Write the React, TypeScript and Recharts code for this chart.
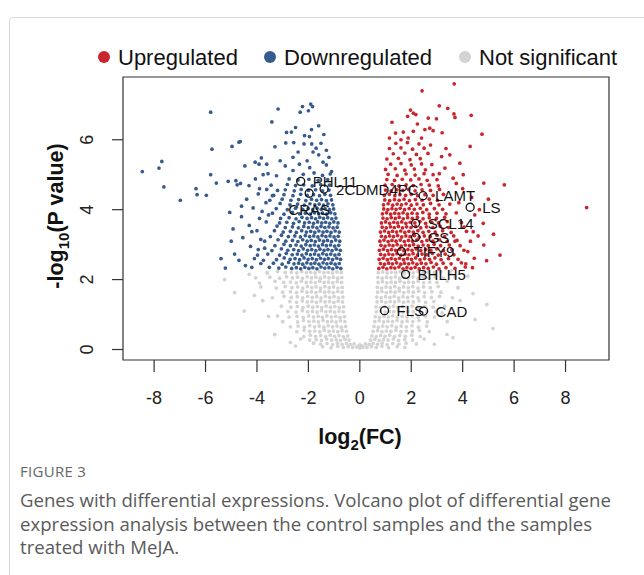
import React from 'react';
import { ScatterChart, Scatter, XAxis, YAxis, ReferenceArea } from 'recharts';

const X_TICKS = [-8, -6, -4, -2, 0, 2, 4, 6, 8];
const Y_TICKS = [0, 2, 4, 6];

// downregulated genes
const DOWN: [number, number][] = [
  [-0.74,2.32],[-0.89,2.35],[-1.05,2.31],[-1.2,2.34],[-1.36,2.33],[-1.51,2.36],[-1.67,2.31],[-1.83,2.34],[-1.98,2.32],[-2.14,2.35],[-2.3,2.31],[-2.47,2.34],[-2.65,2.32],[-2.88,2.36],[-3.15,2.33],[-3.52,2.35],
  [-0.8,2.46],[-0.96,2.44],[-1.12,2.47],[-1.28,2.45],[-1.43,2.48],[-1.59,2.44],[-1.75,2.47],[-1.9,2.45],[-2.06,2.48],[-2.22,2.44],[-2.38,2.47],[-2.56,2.45],[-2.77,2.49],[-3.02,2.44],[-3.36,2.47],[-3.85,2.46],
  [-0.75,2.58],[-0.9,2.61],[-1.06,2.57],[-1.22,2.6],[-1.37,2.58],[-1.53,2.61],[-1.69,2.57],[-1.85,2.6],[-2.01,2.58],[-2.17,2.62],[-2.34,2.57],[-2.52,2.6],[-2.71,2.58],[-2.94,2.62],[-3.24,2.57],[-4.1,2.6],
  [-0.81,2.72],[-0.97,2.7],[-1.13,2.73],[-1.29,2.71],[-1.44,2.74],[-1.6,2.7],[-1.76,2.73],[-1.92,2.71],[-2.08,2.74],[-2.25,2.7],[-2.43,2.73],[-2.63,2.71],[-2.86,2.75],[-3.12,2.7],[-3.58,2.73],
  [-0.76,2.84],[-0.92,2.87],[-1.08,2.83],[-1.24,2.86],[-1.39,2.84],[-1.55,2.87],[-1.71,2.83],[-1.87,2.86],[-2.03,2.84],[-2.2,2.88],[-2.38,2.83],[-2.57,2.86],[-2.8,2.84],[-3.05,2.88],[-3.42,2.83],[-3.95,2.86],
  [-0.82,2.98],[-0.98,2.96],[-1.14,2.99],[-1.3,2.97],[-1.45,3.0],[-1.61,2.96],[-1.77,2.99],[-1.93,2.97],[-2.1,3.0],[-2.28,2.96],[-2.48,2.99],[-2.7,2.97],[-2.95,3.01],[-3.3,2.97],
  [-0.78,3.1],[-0.94,3.13],[-1.1,3.09],[-1.26,3.12],[-1.41,3.1],[-1.57,3.13],[-1.73,3.09],[-1.89,3.12],[-2.05,3.1],[-2.22,3.14],[-2.41,3.09],[-2.62,3.12],[-2.88,3.1],[-3.18,3.14],[-3.7,3.1],
  [-0.84,3.24],[-1.0,3.22],[-1.16,3.25],[-1.32,3.23],[-1.47,3.26],[-1.63,3.22],[-1.79,3.25],[-1.95,3.23],[-2.12,3.26],[-2.31,3.22],[-2.53,3.25],[-2.78,3.23],[-3.05,3.27],[-3.48,3.23],
  [-0.8,3.36],[-0.96,3.39],[-1.12,3.35],[-1.28,3.38],[-1.43,3.36],[-1.59,3.39],[-1.75,3.35],[-1.91,3.38],[-2.08,3.36],[-2.26,3.4],[-2.47,3.35],[-2.7,3.38],[-2.98,3.36],[-3.32,3.4],[-4.2,3.37],
  [-0.88,3.5],[-1.04,3.48],[-1.2,3.51],[-1.36,3.49],[-1.51,3.52],[-1.67,3.48],[-1.83,3.51],[-2.0,3.49],[-2.18,3.52],[-2.39,3.48],[-2.62,3.51],[-2.9,3.49],[-3.22,3.53],
  [-0.85,3.62],[-1.01,3.65],[-1.17,3.61],[-1.33,3.64],[-1.48,3.62],[-1.64,3.65],[-1.8,3.61],[-1.97,3.64],[-2.15,3.62],[-2.36,3.66],[-2.58,3.61],[-2.84,3.64],[-3.12,3.62],[-3.64,3.65],
  [-0.93,3.76],[-1.09,3.74],[-1.25,3.77],[-1.41,3.75],[-1.56,3.78],[-1.72,3.74],[-1.88,3.77],[-2.05,3.75],[-2.25,3.78],[-2.48,3.74],[-2.75,3.77],[-3.08,3.75],
  [-0.97,3.88],[-1.13,3.91],[-1.29,3.87],[-1.45,3.9],[-1.6,3.88],[-1.76,3.91],[-1.93,3.87],[-2.12,3.9],[-2.34,3.88],[-2.62,3.92],[-2.95,3.87],[-3.4,3.9],
  [-1.02,4.02],[-1.18,4.0],[-1.35,4.03],[-1.5,4.01],[-1.66,4.04],[-1.83,4.0],[-2.01,4.03],[-2.22,4.01],[-2.5,4.04],[-2.82,4.0],[-3.25,4.03],
  [-1.05,4.14],[-1.24,4.17],[-1.41,4.13],[-1.58,4.16],[-1.75,4.14],[-1.94,4.17],[-2.16,4.13],[-2.42,4.16],[-2.72,4.14],[-3.1,4.18],
  [-1.1,4.28],[-1.3,4.26],[-1.49,4.29],[-1.68,4.27],[-1.88,4.3],[-2.1,4.26],[-2.38,4.29],[-2.68,4.27],[-3.02,4.3],[-3.5,4.27],
  [-1.14,4.41],[-1.36,4.44],[-1.57,4.4],[-1.8,4.43],[-2.05,4.41],[-2.3,4.44],[-2.6,4.4],[-2.95,4.43],[-3.35,4.41],
  [-1.2,4.56],[-1.45,4.54],[-1.72,4.57],[-2.0,4.55],[-2.28,4.58],[-2.55,4.54],[-2.9,4.57],[-3.2,4.55],[-3.62,4.58],
  [-1.18,4.7],[-1.52,4.72],[-1.85,4.68],[-2.18,4.71],[-2.5,4.69],[-2.82,4.72],[-3.45,4.7],
  [-1.25,4.86],[-1.62,4.84],[-1.98,4.87],[-2.4,4.85],[-2.75,4.88],
  [-1.15,5.02],[-1.45,4.98],[-1.78,5.05],[-2.2,5.01],[-2.6,5.12],
  [-1.43,5.36],[-1.3,5.28],[-1.1,5.09],[-1.88,6.29],[-2.15,6.12],[-1.96,6.09],[-2.17,5.88],[-1.87,5.88],[-1.7,5.76],[-1.51,5.9],[-1.6,5.57],[-1.82,5.65],
  [-2.23,6.95],[-2.32,6.79],[-2.0,6.83],[-1.91,7.02],[-1.84,6.95],[-2.85,6.21],[-2.66,6.22],[-2.5,6.35],[-2.88,5.91],[-2.57,5.92],[-3.42,6.51],[-3.18,6.88],
  [-2.05,5.4],[-2.35,5.3],[-1.95,5.2],[-2.6,5.5],[-1.3,5.7],[-1.6,6.4],[-2.4,5.65],[-3.1,5.4],[-3.3,5.8],[-1.4,6.15],[-1.2,5.5],[-2.9,5.25],
  [-8.46,5.09],[-7.81,5.19],[-7.7,5.38],[-7.62,4.65],[-6.98,4.27],[-6.37,4.6],[-6.33,4.43],[-5.97,4.41],[-5.8,6.79],[-5.75,5.73],[-5.8,5.0],[-5.58,4.76],
  [-4.97,5.81],[-4.7,5.93],[-4.65,5.95],[-5.06,3.92],[-4.93,3.45],[-4.87,2.73],[-5.23,2.33],[-5.12,4.81],[-4.82,4.83],[-4.77,4.71],[-4.64,4.75],[-4.47,5.25],
  [-4.31,4.69],[-4.07,5.36],[-3.92,5.3],[-3.83,5.48],[-3.62,5.3],[-3.76,5.0],[-4.06,4.88],[-3.57,5.03],[-3.24,4.97],
  [-4.4,4.3],[-4.15,4.05],[-3.95,4.45],[-4.6,3.8],[-4.3,3.55],[-3.9,3.75],[-4.55,3.2],[-4.25,2.95],[-3.85,3.15],[-4.7,2.55],[-4.45,2.4],[-3.98,2.7],
  [-3.75,2.55],[-3.65,4.2],[-3.8,3.95],[-4.0,3.4],[-3.55,3.85],[-3.4,4.4],[-3.7,2.9],[-4.6,4.1],[-5.0,3.1],[-5.4,2.6],[-4.2,2.35],[-3.9,4.6],
];

// upregulated genes
const UP: [number, number][] = [
  [0.74,2.32],[0.9,2.35],[1.05,2.31],[1.21,2.34],[1.36,2.33],[1.52,2.36],[1.68,2.31],[1.83,2.34],[1.99,2.32],[2.15,2.35],[2.31,2.31],[2.48,2.34],[2.66,2.32],[2.86,2.36],[3.08,2.31],[3.35,2.34],[3.7,2.32],[4.1,2.36],
  [0.8,2.46],[0.96,2.44],[1.12,2.47],[1.27,2.45],[1.43,2.48],[1.59,2.44],[1.74,2.47],[1.9,2.45],[2.06,2.48],[2.22,2.44],[2.39,2.47],[2.57,2.45],[2.77,2.49],[2.98,2.44],[3.24,2.47],[3.55,2.45],[3.95,2.48],
  [0.75,2.58],[0.91,2.61],[1.07,2.57],[1.22,2.6],[1.38,2.58],[1.54,2.61],[1.7,2.57],[1.85,2.6],[2.01,2.58],[2.17,2.62],[2.34,2.57],[2.52,2.6],[2.71,2.58],[2.92,2.62],[3.16,2.57],[3.45,2.6],[3.82,2.58],[4.45,2.61],
  [0.81,2.72],[0.97,2.7],[1.13,2.73],[1.28,2.71],[1.44,2.74],[1.6,2.7],[1.76,2.73],[1.91,2.71],[2.07,2.74],[2.24,2.7],[2.42,2.73],[2.61,2.71],[2.82,2.75],[3.05,2.7],[3.32,2.73],[3.66,2.71],
  [0.76,2.84],[0.92,2.87],[1.08,2.83],[1.23,2.86],[1.39,2.84],[1.55,2.87],[1.71,2.83],[1.87,2.86],[2.03,2.84],[2.19,2.88],[2.37,2.83],[2.56,2.86],[2.76,2.84],[2.99,2.88],[3.25,2.83],[3.58,2.86],[4.05,2.84],
  [0.82,2.98],[0.98,2.96],[1.14,2.99],[1.29,2.97],[1.45,3.0],[1.61,2.96],[1.77,2.99],[1.93,2.97],[2.09,3.0],[2.27,2.96],[2.46,2.99],[2.66,2.97],[2.89,3.01],[3.14,2.97],[3.48,2.99],[3.9,2.97],
  [0.78,3.1],[0.94,3.13],[1.1,3.09],[1.25,3.12],[1.41,3.1],[1.57,3.13],[1.73,3.09],[1.89,3.12],[2.05,3.1],[2.22,3.14],[2.41,3.09],[2.61,3.12],[2.84,3.1],[3.1,3.14],[3.4,3.09],[3.78,3.12],[4.3,3.1],
  [0.84,3.24],[1.0,3.22],[1.16,3.25],[1.31,3.23],[1.47,3.26],[1.63,3.22],[1.79,3.25],[1.95,3.23],[2.12,3.26],[2.31,3.22],[2.51,3.25],[2.74,3.23],[3.0,3.27],[3.3,3.23],[3.65,3.25],
  [0.8,3.36],[0.96,3.39],[1.12,3.35],[1.27,3.38],[1.43,3.36],[1.59,3.39],[1.75,3.35],[1.91,3.38],[2.08,3.36],[2.26,3.4],[2.46,3.35],[2.68,3.38],[2.93,3.36],[3.22,3.4],[3.55,3.35],[4.15,3.38],
  [0.87,3.5],[1.03,3.48],[1.19,3.51],[1.34,3.49],[1.5,3.52],[1.66,3.48],[1.82,3.51],[1.99,3.49],[2.17,3.52],[2.37,3.48],[2.59,3.51],[2.84,3.49],[3.12,3.53],[3.46,3.49],
  [0.84,3.62],[1.0,3.65],[1.16,3.61],[1.32,3.64],[1.47,3.62],[1.63,3.65],[1.79,3.61],[1.96,3.64],[2.14,3.62],[2.34,3.66],[2.56,3.61],[2.8,3.64],[3.06,3.62],[3.4,3.66],[3.95,3.63],
  [0.9,3.76],[1.06,3.74],[1.22,3.77],[1.38,3.75],[1.53,3.78],[1.69,3.74],[1.86,3.77],[2.04,3.75],[2.24,3.78],[2.46,3.74],[2.7,3.77],[2.98,3.75],[3.3,3.78],
  [0.88,3.88],[1.04,3.91],[1.2,3.87],[1.36,3.9],[1.52,3.88],[1.68,3.91],[1.85,3.87],[2.03,3.9],[2.23,3.88],[2.45,3.92],[2.7,3.87],[3.0,3.9],[3.35,3.88],[3.75,3.91],
  [0.93,4.02],[1.09,4.0],[1.25,4.03],[1.41,4.01],[1.57,4.04],[1.74,4.0],[1.92,4.03],[2.12,4.01],[2.35,4.04],[2.6,4.0],[2.9,4.03],[3.22,4.01],
  [0.92,4.14],[1.1,4.17],[1.28,4.13],[1.45,4.16],[1.62,4.14],[1.8,4.17],[2.0,4.13],[2.22,4.16],[2.47,4.14],[2.75,4.18],[3.08,4.14],[3.5,4.16],
  [0.97,4.28],[1.16,4.26],[1.35,4.29],[1.53,4.27],[1.72,4.3],[1.93,4.26],[2.16,4.29],[2.42,4.27],[2.7,4.3],[3.02,4.27],
  [0.95,4.41],[1.15,4.44],[1.36,4.4],[1.56,4.43],[1.78,4.41],[2.0,4.44],[2.25,4.4],[2.53,4.43],[2.85,4.41],[3.25,4.44],
  [1.0,4.56],[1.22,4.54],[1.44,4.57],[1.67,4.55],[1.9,4.58],[2.15,4.54],[2.42,4.57],[2.75,4.55],[3.1,4.58],
  [0.98,4.7],[1.26,4.72],[1.52,4.68],[1.8,4.71],[2.08,4.69],[2.38,4.72],[2.7,4.7],[3.05,4.68],
  [1.05,4.86],[1.35,4.84],[1.65,4.87],[1.98,4.85],[2.3,4.88],[2.62,4.84],[3.0,4.86],
  [1.1,5.01],[1.45,4.98],[1.8,5.02],[2.15,4.99],[2.5,5.03],[2.85,5.0],
  [1.0,5.15],[1.38,5.17],[1.75,5.13],[2.12,5.16],[2.55,5.14],
  [1.2,5.3],[1.6,5.32],[2.0,5.28],[2.4,5.31],[2.8,5.29],
  [1.05,5.45],[1.5,5.47],[1.95,5.43],[2.35,5.46],
  [1.3,5.6],[1.75,5.62],[2.2,5.58],[2.65,5.61],
  [1.15,5.75],[1.6,5.77],[2.05,5.73],[2.5,5.76],
  [1.4,5.9],[1.85,5.92],[2.3,5.88],
  [3.67,7.6],[2.42,7.4],[3.09,6.97],[3.42,6.9],[1.97,6.85],[2.08,6.76],[2.18,6.72],[2.66,6.62],[2.98,6.6],[3.66,6.74],[3.7,6.64],[4.33,6.7],
  [1.86,6.67],[2.24,6.45],[2.72,6.33],[2.53,6.29],[2.85,6.26],[2.08,6.24],[1.69,6.22],[1.39,6.19],[1.88,6.05],[4.75,6.16],[4.29,5.81],[3.5,5.57],
  [3.18,5.52],[3.89,5.33],[3.31,5.19],[3.09,5.03],[3.63,4.9],[4.02,5.0],[4.82,4.76],[5.62,4.71],[8.82,4.06],[1.25,6.5],[1.6,6.0],[2.4,6.05],
  [3.2,6.2],[2.75,5.85],[1.15,6.05],[3.35,5.75],
  [4.47,3.85],[4.8,3.61],[4.82,2.99],[4.93,2.54],[4.38,2.34],[4.2,2.8],[4.6,3.25],[4.05,3.5],[4.35,4.35],[4.0,4.6],[3.85,4.2],[4.65,4.0],
  [5.2,3.3],[5.45,2.7],[3.7,3.1],[4.12,2.45],[5.0,4.3],[3.75,4.75],[4.41,3.37],
];

// not significant, read off the grey cloud
const NS: [number, number][] = [
  [-0.72,2.2],[-0.89,2.22],[-1.06,2.19],[-1.23,2.21],[-1.4,2.2],[-1.57,2.23],[-1.74,2.19],[-1.91,2.21],[-2.08,2.2],[-2.26,2.23],[-2.45,2.19],[-2.66,2.21],[-2.9,2.2],[-3.2,2.23],[-3.6,2.19],
  [-0.7,2.06],[-0.86,2.04],[-1.03,2.07],[-1.2,2.05],[-1.37,2.08],[-1.54,2.04],[-1.71,2.07],[-1.88,2.05],[-2.05,2.08],[-2.23,2.04],[-2.42,2.07],[-2.62,2.05],[-2.85,2.08],[-3.12,2.04],[-3.5,2.07],[-4.05,2.05],
  [-0.71,1.92],[-0.88,1.94],[-1.05,1.91],[-1.22,1.93],[-1.39,1.92],[-1.56,1.95],[-1.73,1.91],[-1.9,1.93],[-2.08,1.92],[-2.27,1.95],[-2.47,1.91],[-2.7,1.93],[-2.96,1.92],[-3.3,1.95],
  [-0.68,1.78],[-0.85,1.76],[-1.02,1.79],[-1.19,1.77],[-1.36,1.8],[-1.53,1.76],[-1.7,1.79],[-1.87,1.77],[-2.04,1.8],[-2.22,1.76],[-2.42,1.79],[-2.64,1.77],[-2.9,1.8],[-3.25,1.76],[-3.85,1.79],
  [-0.69,1.64],[-0.86,1.66],[-1.03,1.63],[-1.2,1.65],[-1.37,1.64],[-1.54,1.67],[-1.71,1.63],[-1.88,1.65],[-2.06,1.64],[-2.25,1.67],[-2.46,1.63],[-2.7,1.65],[-3.0,1.64],[-4.87,1.63],
  [-0.66,1.5],[-0.83,1.48],[-1.0,1.51],[-1.17,1.49],[-1.34,1.52],[-1.51,1.48],[-1.68,1.51],[-1.85,1.49],[-2.03,1.52],[-2.22,1.48],[-2.43,1.51],[-2.67,1.49],[-2.95,1.52],[-3.4,1.48],
  [-0.67,1.36],[-0.84,1.38],[-1.01,1.35],[-1.18,1.37],[-1.35,1.36],[-1.52,1.39],[-1.69,1.35],[-1.86,1.37],[-2.04,1.36],[-2.24,1.39],[-2.46,1.35],[-2.72,1.37],[-3.78,1.4],
  [-0.63,1.22],[-0.8,1.2],[-0.97,1.23],[-1.14,1.21],[-1.31,1.24],[-1.48,1.2],[-1.65,1.23],[-1.83,1.21],[-2.01,1.24],[-2.21,1.2],[-2.43,1.23],[-2.68,1.21],[-3.05,1.24],
  [-0.64,1.08],[-0.81,1.1],[-0.98,1.07],[-1.15,1.09],[-1.32,1.08],[-1.49,1.11],[-1.66,1.07],[-1.84,1.09],[-2.03,1.08],[-2.24,1.11],[-2.48,1.07],[-2.8,1.09],
  [-0.6,0.94],[-0.77,0.92],[-0.94,0.95],[-1.11,0.93],[-1.28,0.96],[-1.45,0.92],[-1.62,0.95],[-1.8,0.93],[-1.99,0.96],[-2.2,0.92],[-2.44,0.95],[-2.75,0.93],[-3.2,0.96],
  [-0.58,0.8],[-0.75,0.82],[-0.92,0.79],[-1.09,0.81],[-1.26,0.8],[-1.43,0.83],[-1.61,0.79],[-1.79,0.81],[-1.98,0.8],[-2.19,0.83],[-2.42,0.79],[-3.0,0.8],
  [-0.55,0.66],[-0.72,0.64],[-0.89,0.67],[-1.06,0.65],[-1.23,0.68],[-1.4,0.64],[-1.58,0.67],[-1.76,0.65],[-1.95,0.68],[-2.16,0.64],[-2.4,0.67],[-2.7,0.65],
  [-0.52,0.52],[-0.69,0.54],[-0.86,0.51],[-1.03,0.53],[-1.2,0.52],[-1.38,0.55],[-1.56,0.51],[-1.75,0.53],[-1.95,0.52],[-2.17,0.55],[-2.45,0.51],
  [-0.47,0.39],[-0.64,0.37],[-0.81,0.4],[-0.98,0.38],[-1.15,0.41],[-1.33,0.37],[-1.52,0.4],[-1.72,0.38],[-1.93,0.41],[-2.18,0.37],[-3.31,0.43],
  [-0.42,0.27],[-0.58,0.29],[-0.75,0.26],[-0.92,0.28],[-1.1,0.27],[-1.29,0.3],[-1.49,0.26],[-1.7,0.28],[-1.95,0.27],[-2.3,0.3],
  [-0.22,0.16],[-0.36,0.15],[-0.52,0.17],[-0.69,0.15],[-0.87,0.18],[-1.06,0.14],[-1.28,0.17],[-1.52,0.15],[-1.8,0.18],
  [-0.12,0.07],[-0.28,0.06],[-0.45,0.08],[-0.64,0.06],[-0.86,0.09],[-1.12,0.05],[-1.45,0.08],
  [0.0,0.04],[-0.05,0.1],[0.05,0.11],[0.12,0.07],[0.0,0.13],
  [0.72,2.2],[0.89,2.22],[1.06,2.19],[1.23,2.21],[1.4,2.2],[1.57,2.23],[1.74,2.19],[1.91,2.21],[2.08,2.2],[2.26,2.23],[2.45,2.19],[2.66,2.21],[2.9,2.2],[3.15,2.23],[3.5,2.19],
  [0.7,2.06],[0.87,2.04],[1.04,2.07],[1.21,2.05],[1.38,2.08],[1.55,2.04],[1.72,2.07],[1.89,2.05],[2.07,2.08],[2.26,2.04],[2.46,2.07],[2.68,2.05],[2.93,2.08],[3.25,2.04],[3.7,2.07],
  [0.71,1.92],[0.88,1.94],[1.05,1.91],[1.22,1.93],[1.39,1.92],[1.56,1.95],[1.73,1.91],[1.9,1.93],[2.08,1.92],[2.27,1.95],[2.48,1.91],[2.72,1.93],[3.0,1.92],[3.4,1.95],
  [0.68,1.78],[0.85,1.76],[1.02,1.79],[1.19,1.77],[1.36,1.8],[1.53,1.76],[1.7,1.79],[1.88,1.77],[2.06,1.8],[2.26,1.76],[2.48,1.79],[2.74,1.77],[3.05,1.8],[3.82,1.77],
  [0.69,1.64],[0.86,1.66],[1.03,1.63],[1.2,1.65],[1.37,1.64],[1.54,1.67],[1.71,1.63],[1.89,1.65],[2.08,1.64],[2.29,1.67],[2.52,1.63],[2.8,1.65],[3.15,1.64],
  [0.66,1.5],[0.83,1.48],[1.0,1.51],[1.17,1.49],[1.34,1.52],[1.51,1.48],[1.68,1.51],[1.86,1.49],[2.05,1.52],[2.26,1.48],[2.5,1.51],[2.78,1.49],[3.1,1.52],[3.6,1.48],
  [0.67,1.36],[0.84,1.38],[1.01,1.35],[1.18,1.37],[1.35,1.36],[1.52,1.39],[1.7,1.35],[1.88,1.37],[2.08,1.36],[2.3,1.39],[2.56,1.35],[2.88,1.37],[4.94,1.29],
  [0.63,1.22],[0.8,1.2],[0.97,1.23],[1.14,1.21],[1.31,1.24],[1.48,1.2],[1.66,1.23],[1.84,1.21],[2.04,1.24],[2.26,1.2],[2.52,1.23],[2.85,1.21],[3.3,1.24],
  [0.64,1.08],[0.81,1.1],[0.98,1.07],[1.15,1.09],[1.32,1.08],[1.5,1.11],[1.68,1.07],[1.87,1.09],[2.08,1.08],[2.31,1.11],[2.6,1.07],[2.95,1.09],
  [0.6,0.94],[0.77,0.92],[0.94,0.95],[1.11,0.93],[1.28,0.96],[1.46,0.92],[1.64,0.95],[1.83,0.93],[2.04,0.96],[2.27,0.92],[2.55,0.95],[2.9,0.93],
  [0.58,0.8],[0.75,0.82],[0.92,0.79],[1.09,0.81],[1.27,0.8],[1.45,0.83],[1.64,0.79],[1.84,0.81],[2.06,0.8],[2.3,0.83],[2.62,0.79],[3.4,0.8],
  [0.55,0.66],[0.72,0.64],[0.89,0.67],[1.06,0.65],[1.24,0.68],[1.42,0.64],[1.61,0.67],[1.81,0.65],[2.03,0.68],[2.28,0.64],[2.6,0.67],
  [0.52,0.52],[0.69,0.54],[0.86,0.51],[1.03,0.53],[1.21,0.52],[1.4,0.55],[1.6,0.51],[1.81,0.53],[2.04,0.52],[2.32,0.55],[2.7,0.51],
  [0.47,0.39],[0.64,0.37],[0.81,0.4],[0.98,0.38],[1.16,0.41],[1.35,0.37],[1.55,0.4],[1.77,0.38],[2.02,0.41],[2.35,0.37],[3.39,0.43],
  [0.42,0.27],[0.58,0.29],[0.75,0.26],[0.92,0.28],[1.1,0.27],[1.3,0.3],[1.51,0.26],[1.75,0.28],[2.05,0.27],[2.5,0.3],[3.62,0.34],
  [0.22,0.16],[0.36,0.15],[0.52,0.17],[0.69,0.15],[0.87,0.18],[1.06,0.14],[1.28,0.17],[1.52,0.15],[1.8,0.18],[2.2,0.16],
  [0.12,0.07],[0.28,0.06],[0.45,0.08],[0.64,0.06],[0.86,0.09],[1.12,0.05],[1.45,0.08],[1.75,0.06],
  [-5.26,2.0],[-3.78,1.4],[-3.31,0.43],[-3.0,0.8],[5.18,0.6],[4.48,0.86],[3.82,1.77],[-4.3,2.15],[-3.9,1.9],[-4.5,1.1],[-3.55,0.95],[-2.7,0.2],
  [-3.6,2.2],[4.2,2.1],[3.9,1.4],[4.4,1.6],[3.55,2.25],[2.9,0.15],[3.2,1.05],[-4.1,1.55],[-2.5,0.1],
];

const GENE_NAMES = ['PHL11', '2CDMD4PC', 'CRAS', 'LAMT', 'LS', 'SCL14', 'GS', 'TIFY9', 'BHLH5', 'FLS', 'CAD'];
const GENE_FC = [-2.3, -1.39, -1.97, 2.46, 4.29, 2.17, 2.17, 1.62, 1.78, 0.96, 2.48];
const GENE_P = [4.81, 4.59, 4.47, 4.4, 4.07, 3.61, 3.21, 2.8, 2.15, 1.11, 1.1];

const RED = '#c9252d';
const BLUE = '#375b8d';
const GREY = '#d3d3d3';
const FONT = '"Liberation Sans", Arial, Helvetica, sans-serif';

const toPoints = (arr: [number, number][]) => arr.map(([x, y]) => ({ x, y }));
const genes = GENE_NAMES.map((name, i) => ({ name, x: GENE_FC[i], y: GENE_P[i] }));

const dot = (fill: string) => (p: any) => <circle cx={p.cx} cy={p.cy} r={1.85} fill={fill} />;

const GeneMark = (p: any) => {
  const below = p.payload.name === 'CRAS';
  return (
    <g>
      <circle cx={p.cx} cy={p.cy} r={4} fill="none" stroke="#111" strokeWidth={1.3} />
      <text
        x={below ? p.cx : p.cx + 12}
        y={below ? p.cy + 16 : p.cy}
        textAnchor={below ? 'middle' : 'start'}
        dominantBaseline="central"
        fontSize={15}
        fontFamily={FONT}
        fill="#111"
      >
        {p.payload.name}
      </text>
    </g>
  );
};

const XTick = (p: any) => (
  <text x={p.x} y={p.y} dy="0.72em" textAnchor="middle" fontSize={18} fontFamily={FONT} fill="#222">
    {p.payload.value}
  </text>
);

const YTick = (p: any) => (
  <text x={p.x} y={p.y} transform={`rotate(-90 ${p.x} ${p.y})`} textAnchor="middle" fontSize={18} fontFamily={FONT} fill="#222">
    {p.payload.value}
  </text>
);

const legendItems = [
  { label: 'Upregulated', color: RED, left: 98 },
  { label: 'Downregulated', color: BLUE, left: 264 },
  { label: 'Not significant', color: GREY, left: 459 },
];

export default function App() {
  return (
    <div style={{ position: 'absolute', left: 0, top: 0, width: 644, height: 575, background: '#fff', overflow: 'hidden' }}>
      <div style={{ position: 'absolute', left: 9, top: 17, width: 700, height: 620, border: '1px solid #d9d9d9', borderRadius: 4 }} />

      <div style={{ position: 'absolute', left: 0, top: 0 }}>
        <ScatterChart width={644} height={470} margin={{ top: 77, right: 35, left: 63, bottom: 60 }}>
          <XAxis
            type="number"
            dataKey="x"
            domain={[-9.21, 9.69]}
            ticks={X_TICKS}
            allowDataOverflow
            height={50}
            axisLine={false}
            tickSize={12}
            tickMargin={19}
            tickLine={{ stroke: '#333', strokeWidth: 1.2 }}
            tick={<XTick />}
            interval={0}
          />
          <YAxis
            type="number"
            dataKey="y"
            domain={[-0.3, 7.795]}
            ticks={Y_TICKS}
            allowDataOverflow
            width={60}
            axisLine={false}
            tickSize={11}
            tickMargin={19}
            tickLine={{ stroke: '#333', strokeWidth: 1.2 }}
            tick={<YTick />}
            interval={0}
          />
          <Scatter data={toPoints(NS)} shape={dot(GREY)} isAnimationActive={false} />
          <Scatter data={toPoints(DOWN)} shape={dot(BLUE)} isAnimationActive={false} />
          <Scatter data={toPoints(UP)} shape={dot(RED)} isAnimationActive={false} />
          <Scatter data={genes} shape={<GeneMark />} isAnimationActive={false} />
          <ReferenceArea x1={-9.21} x2={9.69} y1={-0.3} y2={7.795} fill="none" stroke="#333" strokeWidth={1.2} ifOverflow="visible" />
        </ScatterChart>
      </div>

      <svg width={644} height={470} style={{ position: 'absolute', left: 0, top: 0, pointerEvents: 'none' }}>
        {legendItems.map((it) => (
          <g key={it.label}>
            <circle cx={it.left + 6} cy={57} r={6} fill={it.color} />
            <text x={it.left + 20} y={57} dominantBaseline="central" fontSize={22} fontFamily={FONT} fill="#111">
              {it.label}
            </text>
          </g>
        ))}
        <text x={360} y={444} textAnchor="middle" fontSize={21.5} fontWeight="bold" fontFamily={FONT} fill="#111">
          log<tspan fontSize={15} dy={6}>2</tspan>
          <tspan dy={-6}>(FC)</tspan>
        </text>
        <text x={63} y={216} transform="rotate(-90 63 216)" textAnchor="middle" fontSize={21.5} fontWeight="bold" fontFamily={FONT} fill="#111">
          -log<tspan fontSize={15} dy={6}>10</tspan>
          <tspan dy={-6}>(P value)</tspan>
        </text>
      </svg>

      <div style={{ position: 'absolute', left: 20, top: 461, fontFamily: '"Open Sans", sans-serif', color: '#666' }}>
        <div style={{ fontSize: 15, letterSpacing: 0.3, lineHeight: '20px' }}>FIGURE 3</div>
        <div style={{ fontSize: 18.6, lineHeight: '23.5px', marginTop: 7, width: 620, color: '#5a5a5a' }}>
          Genes with differential expressions. Volcano plot of differential gene expression analysis between the control samples and the samples treated with MeJA.
        </div>
      </div>
    </div>
  );
}
